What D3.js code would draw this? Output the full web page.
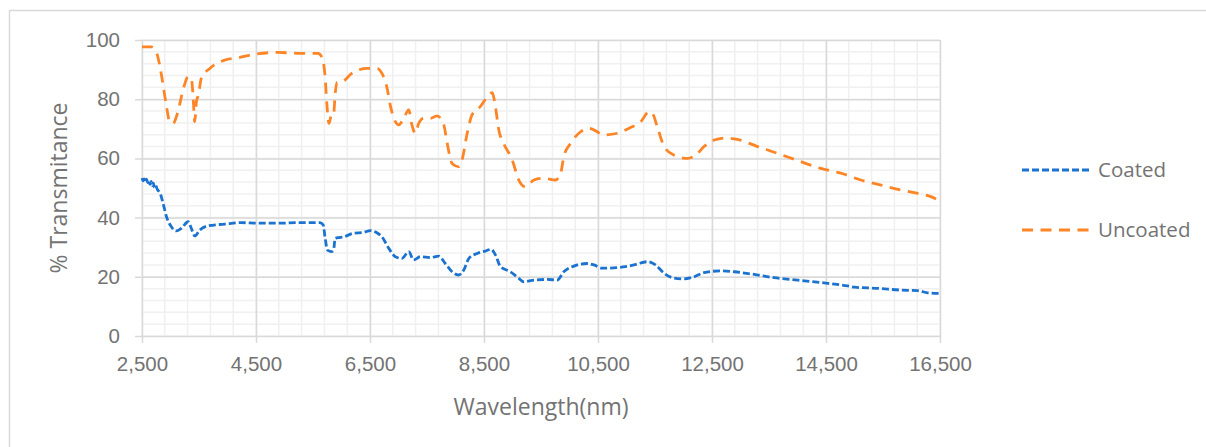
<!DOCTYPE html>
<html>
<head>
<meta charset="utf-8">
<script src="https://cdn.jsdelivr.net/npm/d3@7"></script>
<style>
  body { margin: 0; background: #fff; }
  svg { display: block; font-family: "Open Sans", sans-serif; }
</style>
</head>
<body>
<svg id="chart"></svg>
<script>
var width = 1206;
var height = 447;

// plot area
var plotLeft = 142, plotRight = 940, plotTop = 40, plotBottom = 336;

// Uncoated series
var uncoatedWavelength = [2500, 2660, 2750, 2810, 2870, 2930, 2985, 3045, 3130, 3220, 3310, 3365, 3395, 3425, 3455, 3490, 3540, 3690, 3950, 4190, 4480, 4890, 5240, 5590, 5650, 5710, 5740, 5780, 5825, 5860, 5890, 5920, 6010, 6180, 6450, 6620, 6710, 6800, 6855, 6945, 7005, 7090, 7180, 7235, 7295, 7355, 7440, 7560, 7675, 7795, 7850, 7940, 8055, 8115, 8205, 8290, 8435, 8585, 8645, 8700, 8760, 8845, 8995, 9110, 9230, 9375, 9550, 9755, 9845, 9900, 10020, 10195, 10340, 10485, 10575, 10840, 11045, 11250, 11395, 11455, 11540, 11660, 11835, 12070, 12215, 12360, 12540, 12740, 12945, 13300, 13650, 14000, 14410, 14760, 15110, 15465, 15815, 16110, 16340, 16500];
var uncoatedT = [97.7, 97.7, 96, 91.5, 84.8, 77.5, 72.4, 71.8, 75.8, 83.1, 87.6, 87, 81.4, 72.4, 79.2, 81.4, 87, 90.4, 93.2, 94, 95.2, 95.8, 95.5, 95.5, 94.4, 88.2, 79.2, 71.8, 74.7, 74.7, 82, 85.7, 85.9, 88.7, 90.4, 90.4, 88.7, 83.7, 78, 72.4, 71.3, 73.5, 76.4, 71.3, 68.5, 71.8, 73.5, 73.5, 74.4, 71.3, 65.6, 58.3, 57.2, 59.5, 68.5, 74.7, 77.5, 81.4, 82.2, 77.5, 69.6, 65.1, 59.5, 52.7, 50.4, 52.7, 53.3, 52.7, 55, 60.6, 65.1, 69, 70.2, 69, 67.9, 68.5, 70.2, 72.4, 75.8, 75.2, 70.7, 64, 61.1, 60, 61.1, 64, 66.2, 66.9, 66.4, 64, 61.7, 59.3, 56.6, 55, 52.7, 51, 49.3, 48.2, 47.1, 45.6];

// Coated series
var coatedWavelength = [2500, 2520, 2540, 2560, 2580, 2600, 2620, 2640, 2660, 2680, 2700, 2720, 2740, 2760, 2780, 2810, 2870, 2930, 3015, 3100, 3190, 3310, 3365, 3425, 3515, 3660, 3950, 4245, 4540, 4890, 5240, 5620, 5680, 5710, 5755, 5825, 5860, 5890, 5930, 6040, 6210, 6390, 6505, 6620, 6710, 6830, 6945, 7060, 7180, 7265, 7385, 7560, 7705, 7820, 7940, 8055, 8145, 8235, 8380, 8525, 8625, 8700, 8790, 8965, 9110, 9200, 9375, 9610, 9785, 9900, 10075, 10310, 10430, 10575, 10840, 11130, 11365, 11510, 11660, 11805, 12010, 12185, 12360, 12650, 12890, 13240, 13590, 14000, 14530, 14880, 15000, 15400, 15815, 16110, 16285, 16500];
var coatedT = [53.3, 52.4, 53.1, 52, 53, 51.8, 52.6, 51.2, 52.2, 50.8, 51.6, 50.2, 50.9, 49.9, 49.2, 48.6, 44.8, 40.3, 36.9, 35.5, 36.4, 38.6, 36.4, 33.8, 35.8, 37.2, 37.8, 38.3, 38.1, 38.1, 38.3, 38.3, 37.5, 33.5, 29, 28.5, 29, 33, 33.2, 33.5, 34.7, 35, 35.6, 34.9, 33.5, 29.6, 26.8, 26.2, 28.5, 25.7, 26.8, 26.5, 27, 24.5, 21.7, 20.6, 22.3, 26.2, 27.9, 28.7, 29.3, 27.4, 23.4, 21.7, 19.5, 18.3, 18.9, 19.1, 18.9, 21.7, 23.6, 24.5, 24, 22.9, 23.1, 24, 25.1, 24, 21.2, 19.7, 19.3, 20, 21.4, 22, 21.7, 20.8, 19.7, 18.9, 17.8, 16.9, 16.5, 16.1, 15.5, 15.3, 14.6, 14.4];

var xTicks = [2500, 4500, 6500, 8500, 10500, 12500, 14500, 16500];
var yTicks = [0, 20, 40, 60, 80, 100];
var seriesNames = ["Coated", "Uncoated"];

var blue = "#1b73cf";
var orange = "#fd8526";
var textColor = "#737373";

var svg = d3.select("#chart").attr("width", width).attr("height", height);

// chart border
svg.append("rect")
  .attr("x", 9.5).attr("y", 10.5)
  .attr("width", width).attr("height", height)
  .attr("fill", "none").attr("stroke", "#d9d9d9").attr("stroke-width", 1.5);

var xScale = d3.scaleLinear().domain([2500, 16500]).range([plotLeft, plotRight]);
var yScale = d3.scaleLinear().domain([0, 100]).range([plotBottom, plotTop]);

// minor grid
svg.append("g")
  .selectAll("line")
  .data(d3.range(2500, 16501, 400))
  .enter().append("line")
  .attr("x1", (d) => xScale(d)).attr("x2", (d) => xScale(d))
  .attr("y1", plotTop).attr("y2", plotBottom)
  .attr("stroke", "#f0f0f0").attr("stroke-width", 1.5);

svg.append("g")
  .selectAll("line")
  .data(d3.range(0, 101, 4))
  .enter().append("line")
  .attr("x1", plotLeft).attr("x2", plotRight)
  .attr("y1", (d) => yScale(d)).attr("y2", (d) => yScale(d))
  .attr("stroke", "#f0f0f0").attr("stroke-width", 1.5);

// major grid + axes
var xAxis = d3.axisBottom(xScale)
  .tickValues(xTicks)
  .tickFormat(d3.format(","))
  .tickSize(-(plotBottom - plotTop))
  .tickSizeOuter(0)
  .tickPadding(20);

var yAxis = d3.axisLeft(yScale)
  .tickValues(yTicks)
  .tickSize(-(plotRight - plotLeft))
  .tickSizeOuter(0)
  .tickPadding(22);

var gx = svg.append("g")
  .attr("transform", `translate(0, ${plotBottom})`)
  .call(xAxis);
gx.select(".domain").remove();
gx.selectAll(".tick line").attr("stroke", "#d9d9d9").attr("stroke-width", 1.5).attr("y1", 7);
gx.selectAll("text").attr("fill", textColor).style("font-size", "20.5px");

var gy = svg.append("g")
  .attr("transform", `translate(${plotLeft}, 0)`)
  .call(yAxis);
gy.select(".domain").remove();
gy.selectAll(".tick line").attr("stroke", "#d9d9d9").attr("stroke-width", 1.5).attr("x1", -7);
gy.selectAll("text").attr("fill", textColor).style("font-size", "20.5px");

// lines
var line = d3.line()
  .x((d) => xScale(d[0]))
  .y((d) => yScale(d[1]))
  .curve(d3.curveMonotoneX);

var coated = d3.zip(coatedWavelength, coatedT);
var uncoated = d3.zip(uncoatedWavelength, uncoatedT);

svg.append("path")
  .datum(coated)
  .attr("d", line)
  .attr("fill", "none")
  .attr("stroke", blue)
  .attr("stroke-width", 2.8)
  .attr("stroke-dasharray", "7,3");

svg.append("path")
  .datum(uncoated)
  .attr("d", line)
  .attr("fill", "none")
  .attr("stroke", orange)
  .attr("stroke-width", 2.8)
  .attr("stroke-dasharray", "11,7.5");

// axis titles
svg.append("text")
  .attr("x", (plotLeft + plotRight) / 2)
  .attr("y", 415)
  .style("text-anchor", "middle")
  .style("font-size", "23px")
  .attr("fill", textColor)
  .text("Wavelength(nm)");

svg.append("text")
  .attr("transform", "rotate(-90)")
  .attr("x", -(plotTop + plotBottom) / 2)
  .attr("y", 67)
  .style("text-anchor", "middle")
  .style("font-size", "23px")
  .attr("fill", textColor)
  .text("% Transmitance");

// legend
var legend = svg.append("g")
  .selectAll("g")
  .data(seriesNames)
  .enter().append("g")
  .attr("transform", (d, i) => `translate(1022, ${170 + i * 60})`);

legend.append("line")
  .attr("x1", 0).attr("x2", 69)
  .attr("stroke", (d, i) => (i === 0 ? blue : orange))
  .attr("stroke-width", 2.8)
  .attr("stroke-dasharray", (d, i) => (i === 0 ? "7,3" : "11,7.5"));

legend.append("text")
  .attr("x", 76)
  .attr("y", 7)
  .style("font-size", "20.5px")
  .attr("fill", textColor)
  .text((d) => d);
</script>
</body>
</html>
